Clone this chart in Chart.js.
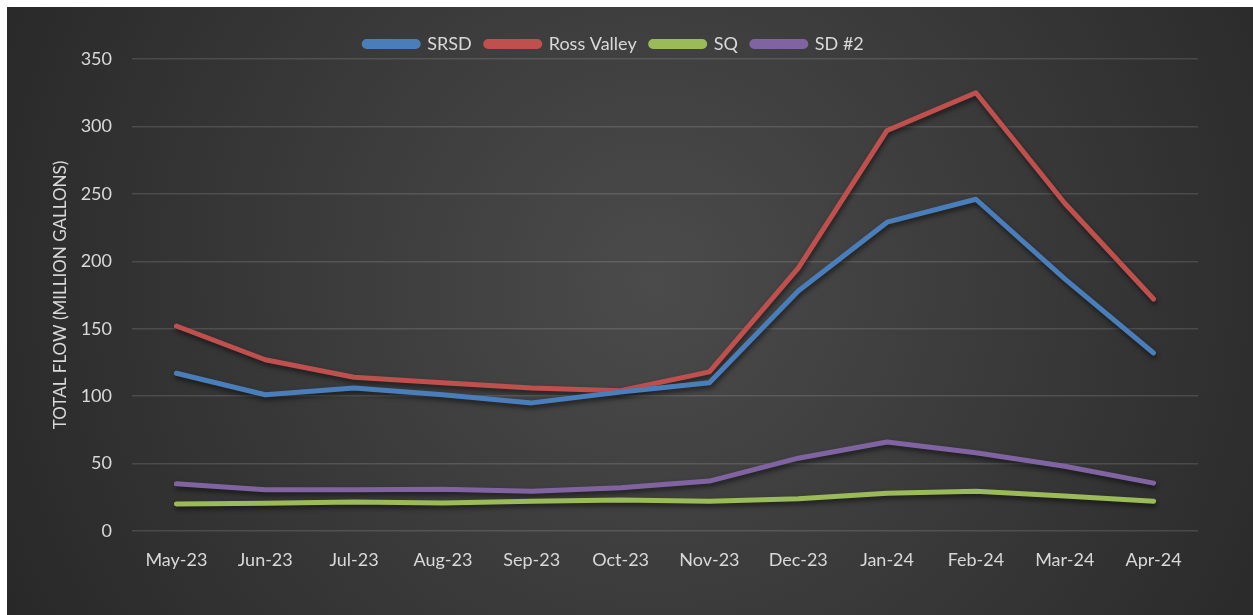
<!DOCTYPE html>
<html>
<head>
<meta charset="utf-8">
<script src="https://cdn.jsdelivr.net/npm/chart.js@4"></script>
<style>
  html, body { margin: 0; padding: 0; background: #fff; }
  #wrap { position: absolute; left: 7px; top: 7px; width: 1246px; height: 608px; }
</style>
</head>
<body>
<div id="wrap"><canvas id="chart"></canvas></div>
<script>
const months = ['May-23', 'Jun-23', 'Jul-23', 'Aug-23', 'Sep-23', 'Oct-23',
                'Nov-23', 'Dec-23', 'Jan-24', 'Feb-24', 'Mar-24', 'Apr-24'];
const srsd       = [117, 101, 106, 101, 95, 103, 110, 178, 229, 246, 187, 132];
const rossValley = [152, 127, 114, 110, 106, 104, 118, 195, 297, 325, 243, 172];
const sq         = [20, 20.5, 21.5, 20.8, 22, 23, 22, 24, 28, 29.5, 26, 22];
const sd2        = [35, 30.5, 30.5, 31, 29.5, 32, 37, 54, 66, 58, 48, 35.5];

const txt = '#d9d9d9';

// dark radial background like the Excel style
const bgPlugin = {
  id: 'bg',
  beforeDraw(chart) {
    const { ctx, width, height } = chart;
    const g = ctx.createRadialGradient(width * 0.52, height * 0.45, 0, width * 0.52, height * 0.45, width * 0.62);
    g.addColorStop(0, '#4b4b4b');
    g.addColorStop(1, '#262626');
    ctx.save();
    ctx.fillStyle = g;
    ctx.fillRect(0, 0, width, height);
    ctx.restore();
  }
};

// soft drop shadow under the lines
const shadowPlugin = {
  id: 'lineShadow',
  beforeDatasetsDraw(chart) {
    const ctx = chart.ctx;
    ctx.save();
    ctx.shadowColor = 'rgba(0,0,0,0.55)';
    ctx.shadowBlur = 5;
    ctx.shadowOffsetX = 1;
    ctx.shadowOffsetY = 3;
  },
  afterDatasetsDraw(chart) {
    chart.ctx.restore();
  }
};

// legend sits a bit closer to the plot than the default padding allows
const legendTrim = {
  id: 'legendTrim',
  afterInit(chart) {
    const lg = chart.legend;
    if (!lg) return;
    const fit = lg.fit;
    lg.fit = function () {
      fit.call(this);
      this.height -= 4;
    };
  }
};

function series(label, data, color) {
  return {
    label: label,
    data: data,
    borderColor: color,
    backgroundColor: color,
    borderWidth: 5,
    borderCapStyle: 'round',
    borderJoinStyle: 'round',
    pointRadius: 0,
    tension: 0,
    fill: false
  };
}

new Chart(document.getElementById('chart'), {
  type: 'line',
  data: {
    labels: months,
    datasets: [
      series('SRSD', srsd, '#4a7ebb'),
      series('Ross Valley', rossValley, '#c0504d'),
      series('SQ', sq, '#9bbb59'),
      series('SD #2', sd2, '#8064a2')
    ]
  },
  options: {
    responsive: true,
    maintainAspectRatio: false,
    animation: false,
    layout: { padding: { left: 23, right: 55, top: 14, bottom: 0 } },
    plugins: {
      tooltip: { enabled: false },
      legend: {
        position: 'top',
        labels: {
          color: txt,
          font: { family: 'Lato', size: 18 },
          boxWidth: 54,
          boxHeight: 5,
          useBorderRadius: true,
          borderRadius: 2.5,
          padding: 14
        }
      }
    },
    scales: {
      x: {
        offset: true,
        grid: { display: false },
        border: { display: false },
        ticks: { color: txt, font: { family: 'Lato', size: 18 }, padding: 10, maxRotation: 0 },
        afterFit(scale) { scale.height = 84; }
      },
      y: {
        min: 0,
        max: 350,
        ticks: { stepSize: 50, color: txt, font: { family: 'Lato', size: 18 }, padding: 20 },
        grid: { color: 'rgba(255,255,255,0.13)', lineWidth: 1.5, drawTicks: false },
        border: { display: false },
        title: {
          display: true,
          text: 'TOTAL FLOW (MILLION GALLONS)',
          color: txt,
          font: { family: 'Lato', size: 17 },
          padding: { top: 20, bottom: 0 }
        },
        afterFit(scale) { scale.width = 102; }
      }
    }
  },
  plugins: [bgPlugin, shadowPlugin, legendTrim]
});
</script>
</body>
</html>
